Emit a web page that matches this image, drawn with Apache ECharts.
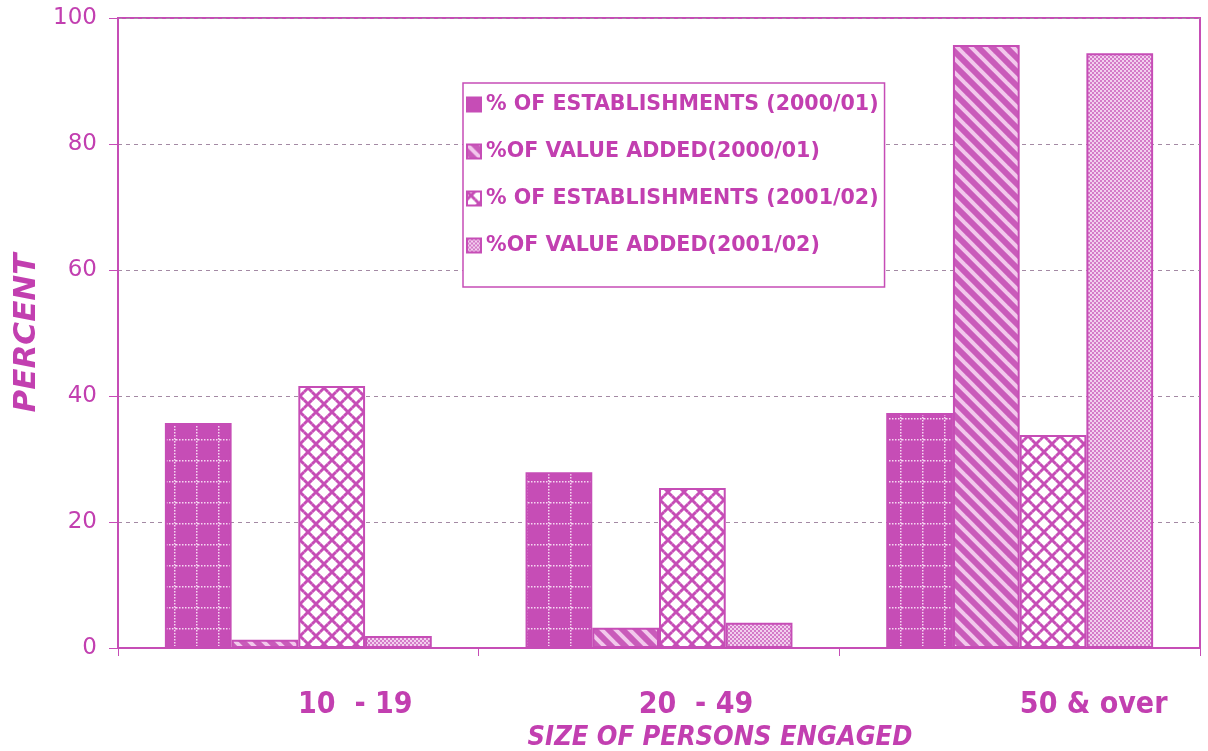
<!DOCTYPE html>
<html>
<head>
<meta charset="utf-8">
<script src="https://cdn.jsdelivr.net/npm/echarts@6/dist/echarts.min.js"></script>
<style>html,body{margin:0;padding:0;background:#fff;overflow:hidden;}#chart{width:1208px;height:751px;}</style>
</head>
<body>
<div id="chart"></div>
<script>
// ---- data ----
var categories = ['10  - 19', '20  - 49', '50 & over'];
var seriesNames = ['% OF ESTABLISHMENTS (2000/01)', '%OF VALUE ADDED(2000/01)', '% OF ESTABLISHMENTS (2001/02)', '%OF VALUE ADDED(2001/02)'];
var est2000 = [35.7, 27.9, 37.3];
var va2000 = [1.3, 3.2, 95.7];
var est2001 = [41.6, 25.4, 33.8];
var va2001 = [1.9, 4.0, 94.4];
var yTicks = [0, 20, 40, 60, 80, 100];

// ---- styles ----
var MAG = '#c64db6';
var TXT = '#c23fb0';
var WIDE = 'DejaVu Sans, Verdana, sans-serif';
var COND = 'DejaVu Sans Condensed, Liberation Sans Narrow, Arial Narrow, sans-serif';

function makePattern(w, h, draw) {
  var c = document.createElement('canvas');
  c.width = w; c.height = h;
  draw(c.getContext('2d'), w, h);
  return { image: c, repeat: 'repeat' };
}
var pGrid = makePattern(22, 21, function (ctx, w, h) {
  ctx.fillStyle = MAG; ctx.fillRect(0, 0, w, h);
  ctx.fillStyle = '#f6d8f2';
  for (var x = 0; x < w; x += 3) ctx.fillRect(x, h - 2, 1.5, 1.5);
  for (var y = 0; y < h; y += 3) ctx.fillRect(w - 2, y, 1.5, 1.5);
});
var pDiag = makePattern(14, 14, function (ctx, w, h) {
  ctx.fillStyle = '#c95bba'; ctx.fillRect(0, 0, w, h);
  ctx.strokeStyle = '#f2c8ec'; ctx.lineWidth = 4;
  [-w, 0, w].forEach(function (o) {
    ctx.beginPath(); ctx.moveTo(o - 2, -2); ctx.lineTo(o + w + 2, h + 2); ctx.stroke();
  });
});
var pX = makePattern(16, 16, function (ctx, w, h) {
  ctx.fillStyle = '#ffffff'; ctx.fillRect(0, 0, w, h);
  ctx.strokeStyle = MAG; ctx.lineWidth = 3;
  function cross(cx, cy) {
    ctx.beginPath(); ctx.moveTo(cx - 4, cy - 4); ctx.lineTo(cx + 4, cy + 4);
    ctx.moveTo(cx + 4, cy - 4); ctx.lineTo(cx - 4, cy + 4); ctx.stroke();
  }
  cross(4, 4); cross(12, 12); cross(20, -4); cross(-4, 20); cross(20, 12); cross(-4, 12); cross(12, -4); cross(12, 20);
  cross(4, 20); cross(20, 4); cross(-4, -4); cross(20, 20);
  ctx.fillStyle = '#ffffff';
  ctx.fillRect(11, 3, 3, 2); ctx.fillRect(3, 11, 3, 2);
});
var pFine = makePattern(4, 4, function (ctx, w, h) {
  ctx.fillStyle = '#f2cfee'; ctx.fillRect(0, 0, w, h);
  ctx.fillStyle = '#d47ac8';
  ctx.fillRect(0, 0, 2, 2); ctx.fillRect(2, 2, 2, 2);
});
var patterns = [pGrid, pDiag, pX, pFine];
var values = [est2000, va2000, est2001, va2001];

var chart = echarts.init(document.getElementById('chart'), null, { renderer: 'canvas' });

var series = seriesNames.map(function (name, i) {
  return {
    name: name,
    type: 'bar',
    data: values[i],
    barGap: '0%',
    barCategoryGap: '26%',
    itemStyle: { color: patterns[i], borderColor: MAG, borderWidth: 2 },
    emphasis: { disabled: true }
  };
});

var xLabelPad = { a: 114, b: 74, c: 148 };
var keys = ['a', 'b', 'c'];
function richStyle(pad) {
  return { color: TXT, fontFamily: COND, fontWeight: 'bold', fontSize: 30, padding: [0, 0, 0, pad] };
}

chart.setOption({
  animation: false,
  backgroundColor: '#ffffff',
  grid: { left: 118, right: 8, top: 18, bottom: 103, outerBoundsMode: 'none', containLabel: false,
    show: true, borderColor: MAG, borderWidth: 2, backgroundColor: 'transparent' },
  legend: {
    orient: 'vertical',
    left: 463, top: 83,
    padding: [10, 6, 30, 3],
    borderColor: MAG, borderWidth: 1.5,
    backgroundColor: '#ffffff',
    icon: 'rect',
    itemWidth: 14, itemHeight: 14,
    itemGap: 24,
    selectedMode: false,
    textStyle: { color: TXT, fontFamily: WIDE, fontWeight: 'bold', fontSize: 20.6, lineHeight: 23 },
    data: seriesNames
  },
  xAxis: {
    type: 'category',
    data: categories,
    axisLine: { lineStyle: { color: MAG, width: 2 } },
    axisTick: { show: true, alignWithLabel: false, length: 8, inside: false, lineStyle: { color: MAG, width: 1 } },
    axisLabel: {
      interval: 0, margin: 42, hideOverlap: false,
      formatter: function (v, idx) { return '{' + keys[idx] + '|' + v + '}'; },
      rich: { a: richStyle(xLabelPad.a), b: richStyle(xLabelPad.b), c: richStyle(xLabelPad.c) }
    },
    name: 'SIZE OF PERSONS ENGAGED',
    nameLocation: 'middle',
    nameGap: 73,
    nameTextStyle: { color: TXT, fontFamily: COND, fontWeight: 'bold', fontStyle: 'italic', fontSize: 27, padding: [0, 0, 0, 122] },
    splitLine: { show: false }
  },
  yAxis: {
    type: 'value',
    min: 0, max: 100, interval: 20,
    axisLine: { show: true, lineStyle: { color: MAG, width: 2 } },
    axisTick: { show: true, length: 9, lineStyle: { color: MAG, width: 1 } },
    axisLabel: { color: TXT, fontFamily: WIDE, fontSize: 23, margin: 21,
      formatter: function (v) { return yTicks.indexOf(v) >= 0 ? String(v) : ''; } },
    splitLine: { show: true, lineStyle: { color: '#a48aa4', type: [4, 4], width: 1 } },
    name: 'PERCENT',
    nameLocation: 'middle',
    nameGap: 70,
    nameRotate: 90,
    nameTextStyle: { color: TXT, fontFamily: WIDE, fontWeight: 'bold', fontStyle: 'italic', fontSize: 31 }
  },
  series: series
});
</script>
</body>
</html>
